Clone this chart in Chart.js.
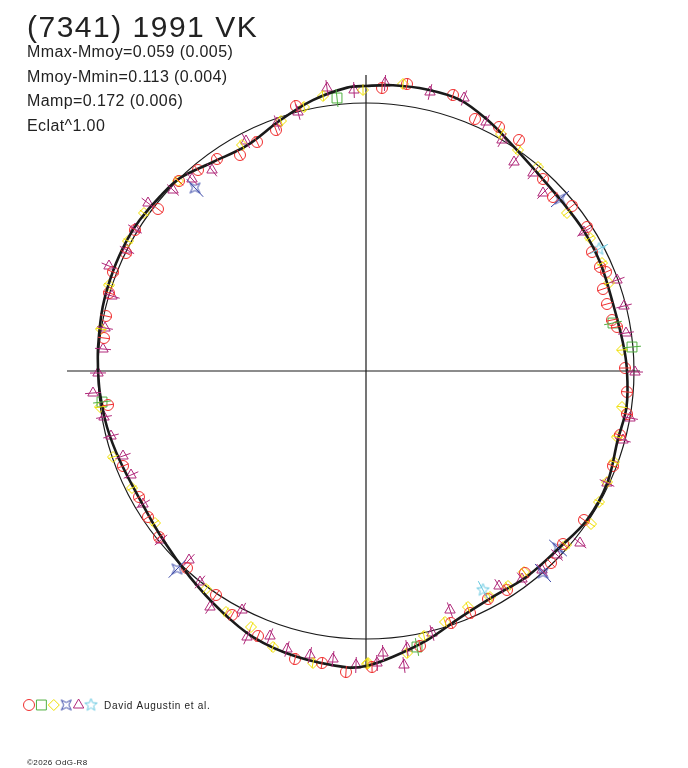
<!DOCTYPE html>
<html>
<head>
<meta charset="utf-8">
<script src="https://cdn.jsdelivr.net/npm/chart.js@4.4.1/dist/chart.umd.min.js"></script>
<style>
  body { margin: 0; background: #fff; }
  canvas { display: block; }
</style>
</head>
<body>
<canvas id="myChart" width="688" height="768"></canvas>
<script>
// polar light curve: angle (deg, counter-clockwise from east) and radius
const curveAngle = [-180, -175.3, -167.8, -160.1, -150.3, -140.2, -130.5, -121.4, -113, -103.6, -93.7, -90, -84.6, -77.2, -69.2, -60.7, -52, -42.2, -34, -24.9, -15.3, -7.9, 0, 6.2, 15.4, 24.8, 33, 40.5, 49.2, 57.7, 64.3, 70.9, 77.8, 84.6, 90, 93.8, 101.1, 108.9, 117.8, 126.2, 133.9, 139.8, 146.3, 151.3, 158.2, 166.3, 174.9, 180];
const curveRadius = [268, 267, 265, 262, 260, 264, 271, 280, 289, 294, 297, 295, 287, 276, 264, 259, 261, 262, 266.5, 266, 261, 263, 261, 258.5, 256, 258, 259, 259, 262, 270, 279, 287, 288, 287, 285, 284, 276, 265, 255, 259, 268, 270, 272, 272.5, 272, 271, 269, 268];
const meanRadius = 268;

// axis extents
const xAxisRange = [-299, 274];
const yAxisRange = [-297, 296];

// observations [x, y]
const redCircles = [[16,283],[41,287],[87,276],[109,252],[133,244],[153,231],[177,192],[187,174],[206,165],[221,144],[226,119],[234,104],[240,99],[237,82],[241,67],[246,51],[251,44],[259,3],
  [-70,265],[-90,241],[-109,229],[-126,216],[-149,212],[-168,201],[-187,190],[-208,162],[-231,141],[-240,118],[-253,99],[-257,78],[-260,55],[-262,33],
  [-258,-34],[-243,-95],[-227,-126],[-218,-146],[-207,-166],[-179,-197],[-150,-224],[-134,-244],[-108,-265],[-71,-288],[-44,-292],[-20,-301],
  [261,-21],[261,-43],[254,-64],[247,-95],[218,-149],[197,-173],[185,-192],[159,-202],[141,-219],[122,-228],[104,-242],[85,-252],[54,-275],[6,-296]];
const greenSquares = [[247,48],[266,24],[-29,273],[-264,-31],[51,-276]];
const yellowDiamonds = [[-3,281],[37,287],[135,237],[152,221],[172,204],[201,158],[224,133],[236,108],[243,88],[256,21],
  [-43,275],[-62,264],[-85,250],[-124,226],[-188,190],[-222,158],[-238,130],[-257,86],[-265,42],
  [-266,-36],[-253,-86],[-234,-117],[-211,-152],[-160,-218],[-140,-241],[-115,-256],[-93,-276],[-53,-292],[1,-293],
  [256,-36],[251,-66],[248,-91],[241,-111],[233,-131],[225,-153],[200,-174],[158,-201],[142,-215],[124,-226],[102,-236],[79,-251],[58,-265],[41,-282],[2,-292]];
const blueStars = [[194,172],[-171,183],[-189,-198],[192,-177],[177,-202]];
const purpleTriangles = [[19,288],[64,279],[98,273],[120,249],[136,231],[148,209],[167,198],[177,178],[218,139],[251,91],[258,65],[260,38],[269,-1],
  [-39,283],[-12,281],[-68,259],[-89,248],[-120,230],[-154,201],[-174,192],[-193,181],[-218,168],[-231,142],[-239,121],[-257,105],[-254,75],[-261,43],[-263,22],[-268,-2],
  [-273,-22],[-262,-46],[-255,-65],[-243,-85],[-235,-104],[-223,-133],[-205,-169],[-177,-189],[-166,-211],[-156,-236],[-124,-239],[-119,-266],[-96,-265],[-79,-278],[-56,-284],[-33,-288],[-10,-294],
  [264,-47],[257,-69],[241,-112],[214,-172],[191,-184],[176,-199],[156,-208],[133,-215],[84,-239],[66,-262],[41,-277],[38,-294],[17,-282],[11,-292]];
const cyanStars = [[233,122],[117,-219]];

const toXY = list => list.map(p => ({ x: p[0], y: p[1] }));
const curvePoints = curveAngle.map((a, i) => ({
  x: curveRadius[i] * Math.cos(a * Math.PI / 180),
  y: curveRadius[i] * Math.sin(a * Math.PI / 180)
}));

// custom marker images
function makeMarker(color, drawFn) {
  const c = document.createElement('canvas');
  c.width = 15; c.height = 15;
  const g = c.getContext('2d');
  g.strokeStyle = color;
  g.lineWidth = 1;
  g.beginPath();
  drawFn(g);
  g.stroke();
  return c;
}
const blueStarImg = makeMarker('#3a48a8', g => {
  g.moveTo(2.5, 2.5); g.lineTo(7.5, 5); g.lineTo(12.5, 2.5); g.lineTo(10, 7.5);
  g.lineTo(12.5, 12.5); g.lineTo(7.5, 10); g.lineTo(2.5, 12.5); g.lineTo(5, 7.5); g.closePath();
});
const cyanStarImg = makeMarker('#66c8e0', g => {
  for (let k = 0; k < 10; k++) {
    const r = k % 2 === 0 ? 6.5 : 2.8;
    const a = -Math.PI / 2 + k * Math.PI / 5;
    const px = 7.5 + r * Math.cos(a), py = 7.5 + r * Math.sin(a);
    if (k === 0) g.moveTo(px, py); else g.lineTo(px, py);
  }
  g.closePath();
});

function markerSet(label, data, color, style, radius) {
  return {
    label, data: toXY(data), pointStyle: style, pointRadius: radius, pointHoverRadius: radius,
    borderColor: color, backgroundColor: 'rgba(0,0,0,0)', pointBorderWidth: 1,
    showLine: false, clip: false, order: 2
  };
}

const textPlugin = {
  id: 'texts',
  beforeDraw(chart) {
    const ctx = chart.ctx;
    const { x, y } = chart.scales;
    ctx.save();
    ctx.fillStyle = '#fff';
    ctx.fillRect(0, 0, chart.width, chart.height);
    // mean circle
    const cx = x.getPixelForValue(0), cy = y.getPixelForValue(0);
    const rr = x.getPixelForValue(meanRadius) - cx;
    ctx.strokeStyle = '#1a1a1a';
    ctx.lineWidth = 1.2;
    ctx.beginPath();
    ctx.arc(cx, cy, rr, 0, Math.PI * 2);
    ctx.stroke();
    ctx.restore();
  },
  afterDatasetsDraw(chart) {
    const ctx = chart.ctx;
    const { x, y } = chart.scales;
    const cx = x.getPixelForValue(0), cy = y.getPixelForValue(0);
    ctx.save();
    // radial error ticks through observations
    chart.data.datasets.forEach((ds, i) => {
      if (!ds.errTick) return;
      ctx.strokeStyle = ds.borderColor;
      ctx.lineWidth = 1;
      chart.getDatasetMeta(i).data.forEach(pt => {
        const dx = pt.x - cx, dy = pt.y - cy;
        const d = Math.hypot(dx, dy) || 1;
        const ux = dx / d, uy = dy / d;
        ctx.beginPath();
        ctx.moveTo(pt.x - ux * ds.errTick, pt.y - uy * ds.errTick);
        ctx.lineTo(pt.x + ux * ds.errTick, pt.y + uy * ds.errTick);
        ctx.stroke();
      });
    });

    // titles
    ctx.fillStyle = '#222';
    ctx.textBaseline = 'alphabetic';
    ctx.font = '30px "Liberation Sans", Arial, sans-serif';
    ctx.letterSpacing = '1.5px';
    ctx.fillText('(7341) 1991 VK', 27, 37);
    ctx.font = '16px "Liberation Sans", Arial, sans-serif';
    ctx.letterSpacing = '0.4px';
    ['Mmax-Mmoy=0.059 (0.005)', 'Mmoy-Mmin=0.113 (0.004)', 'Mamp=0.172 (0.006)', 'Eclat^1.00']
      .forEach((t, k) => ctx.fillText(t, 27, 57 + k * 24.7));

    // legend
    const legend = [
      ['#f03030', 'circle', 5.5], ['#50b040', 'rect', 7], ['#f0e000', 'rectRot', 5.5],
      ['#3a48a8', blueStarImg, 6], ['#b0287a', 'triangle', 6], ['#66c8e0', cyanStarImg, 6]
    ];
    legend.forEach((l, k) => {
      ctx.strokeStyle = l[0];
      ctx.fillStyle = 'rgba(0,0,0,0)';
      ctx.lineWidth = 1;
      Chart.helpers.drawPoint(ctx, { pointStyle: l[1], radius: l[2], rotation: 0, borderWidth: 1 }, 29 + k * 12.4, 705);
    });
    ctx.fillStyle = '#222';
    ctx.font = '10px "Liberation Sans", Arial, sans-serif';
    ctx.letterSpacing = '0.7px';
    ctx.fillText('David Augustin et al.', 104, 709);
    ctx.font = '8px "Liberation Sans", Arial, sans-serif';
    ctx.letterSpacing = '0.4px';
    ctx.fillText('\u00a92026 OdG-R8', 27, 765);
    ctx.restore();
  }
};

const redSet = markerSet('circle', redCircles, '#f03030', 'circle', 5.5); redSet.errTick = 6;
const greenSet = markerSet('square', greenSquares, '#50b040', 'rect', 7); greenSet.errTick = 9;
const yellowSet = markerSet('diamond', yellowDiamonds, '#f0e000', 'rectRot', 5.5); yellowSet.errTick = 5;
const blueSet = markerSet('star4', blueStars, '#3a48a8', blueStarImg, 6); blueSet.errTick = 12;
const purpleSet = markerSet('triangle', purpleTriangles, '#b0287a', 'triangle', 6); purpleSet.errTick = 8;
const cyanSet = markerSet('star', cyanStars, '#66c8e0', cyanStarImg, 6); cyanSet.errTick = 10;

new Chart(document.getElementById('myChart'), {
  type: 'scatter',
  data: {
    datasets: [
      { label: 'curve', data: curvePoints, showLine: true, borderColor: '#1a1a1a', borderWidth: 2.6,
        pointRadius: 0, tension: 0.35, clip: false, order: 0 },
      { label: 'xaxis', data: [{ x: xAxisRange[0], y: 0 }, { x: xAxisRange[1], y: 0 }], showLine: true,
        borderColor: '#1a1a1a', borderWidth: 1.2, pointRadius: 0, clip: false, order: 3 },
      { label: 'yaxis', data: [{ x: 0, y: yAxisRange[0] }, { x: 0, y: yAxisRange[1] }], showLine: true,
        borderColor: '#1a1a1a', borderWidth: 1.2, pointRadius: 0, clip: false, order: 3 },
      redSet, greenSet, yellowSet, blueSet, purpleSet, cyanSet
    ]
  },
  options: {
    responsive: false,
    animation: false,
    devicePixelRatio: 1,
    layout: { padding: { left: 67, right: 48, top: 75, bottom: 100 } },
    scales: {
      x: { type: 'linear', min: xAxisRange[0], max: xAxisRange[1], display: false },
      y: { type: 'linear', min: yAxisRange[0], max: yAxisRange[1], display: false }
    },
    plugins: { legend: { display: false }, tooltip: { enabled: false } }
  },
  plugins: [textPlugin]
});
</script>
</body>
</html>
